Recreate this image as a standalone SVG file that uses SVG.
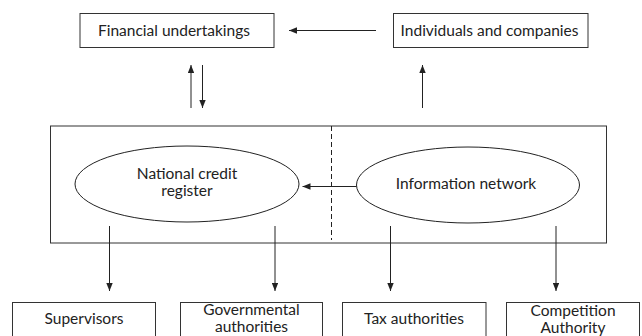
<svg xmlns="http://www.w3.org/2000/svg" width="642" height="336" viewBox="0 0 642 336">
<style>
.box{fill:#fff;stroke:#333;stroke-width:1}
.ell{fill:#fff;stroke:#222;stroke-width:1}
.t{font-family:Lato,"Open Sans","Liberation Sans",sans-serif;font-size:15.5px;fill:#222;text-anchor:middle}
.c{stroke:#222;stroke-width:1;fill:none}
</style>
<defs>
<marker id="ah" viewBox="0 0 10 8" refX="10" refY="4" markerWidth="8" markerHeight="6.4" markerUnits="userSpaceOnUse" orient="auto">
<path d="M0,0 L10,4 L0,8 Z" fill="#222"/>
</marker>
</defs>
<rect width="642" height="336" fill="#fff"/>
<g id="system">
<rect class="box" x="50.5" y="126" width="556" height="117"/>
<line x1="331.5" y1="126" x2="331.5" y2="240" stroke="#222" stroke-width="1" stroke-dasharray="5,3"/>
</g>
<g id="financial">
<rect class="box" x="80" y="13.5" width="194" height="34"/>
<text class="t" x="174" y="36">Financial undertakings</text>
</g>
<g id="individuals">
<rect class="box" x="393.5" y="13.5" width="194.5" height="34"/>
<text class="t" x="489.5" y="36">Individuals and companies</text>
</g>
<g id="ncr">
<ellipse class="ell" cx="187" cy="184" rx="112" ry="38"/>
<text class="t" x="187" y="178.5">National credit</text>
<text class="t" x="187" y="196">register</text>
</g>
<g id="infonet">
<ellipse class="ell" cx="468" cy="185" rx="111.5" ry="38"/>
<text class="t" x="466" y="188.5">Information network</text>
</g>
<g id="supervisors">
<rect class="box" x="12.5" y="302.5" width="143" height="45"/>
<text class="t" x="84" y="324">Supervisors</text>
</g>
<g id="governmental">
<rect class="box" x="180.5" y="302.5" width="142" height="45"/>
<text class="t" x="251.5" y="315">Governmental</text>
<text class="t" x="251.5" y="332">authorities</text>
</g>
<g id="tax">
<rect class="box" x="342.5" y="302.5" width="143.5" height="45"/>
<text class="t" x="414" y="323.5">Tax authorities</text>
</g>
<g id="competition">
<rect class="box" x="506.5" y="302.5" width="133" height="45"/>
<text class="t" x="573" y="316">Competition</text>
<text class="t" x="573" y="333">Authority</text>
</g>
<g id="connectors">
<line class="c" x1="376" y1="30.5" x2="289" y2="30.5" marker-end="url(#ah)"/>
<line class="c" x1="191" y1="108" x2="191" y2="65" marker-end="url(#ah)"/>
<line class="c" x1="202.5" y1="65" x2="202.5" y2="108" marker-end="url(#ah)"/>
<line class="c" x1="422.5" y1="108" x2="422.5" y2="65" marker-end="url(#ah)"/>
<line class="c" x1="356.5" y1="186.5" x2="302.5" y2="186.5" marker-end="url(#ah)"/>
<line class="c" x1="109.5" y1="226" x2="109.5" y2="291" marker-end="url(#ah)"/>
<line class="c" x1="275" y1="226" x2="275" y2="291" marker-end="url(#ah)"/>
<line class="c" x1="390.5" y1="226" x2="390.5" y2="291" marker-end="url(#ah)"/>
<line class="c" x1="556" y1="226" x2="556" y2="291" marker-end="url(#ah)"/>
</g>
</svg>
